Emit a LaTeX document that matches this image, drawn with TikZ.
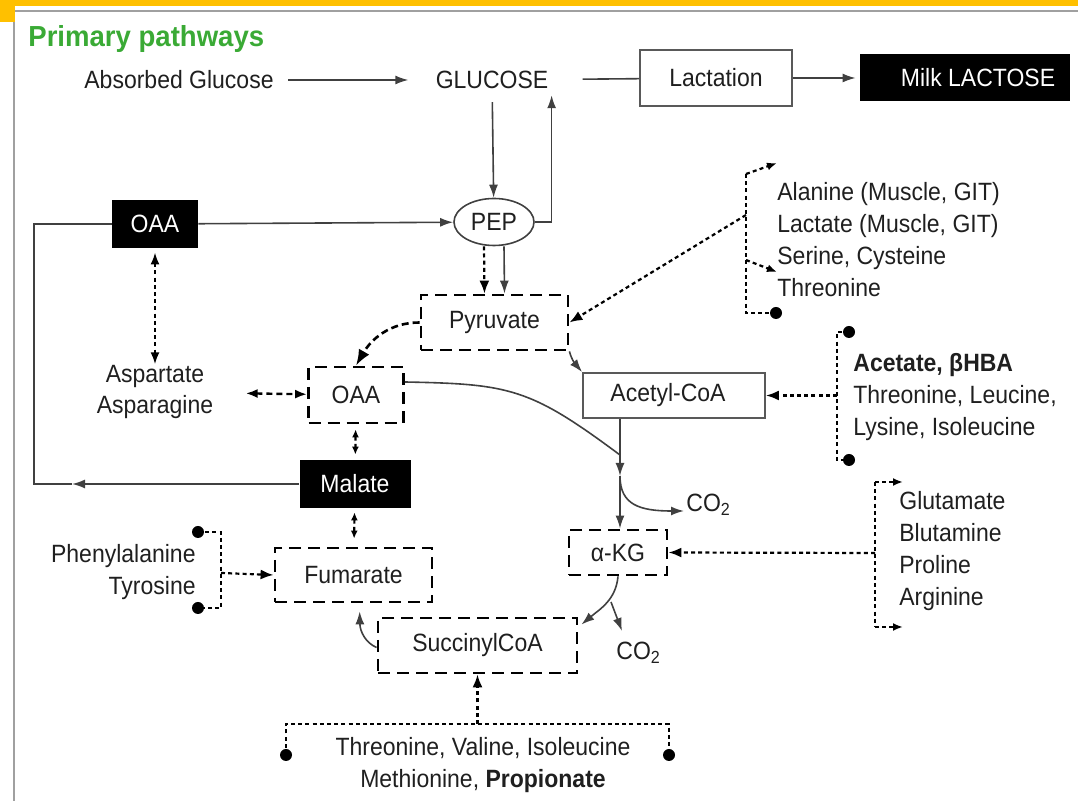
\documentclass[tikz,border=0pt]{standalone}
\usepackage{fontspec}
\setmainfont{Liberation Sans}[FakeStretch=0.92]
\newfontfamily\titlefont{Liberation Sans}[FakeStretch=0.95]
\usetikzlibrary{arrows.meta,shapes.geometric,calc}
\definecolor{bandorange}{RGB}{255,192,0}
\definecolor{titlegreen}{RGB}{58,170,53}
\definecolor{framegray}{RGB}{160,160,160}

\begin{document}
\begin{tikzpicture}[x=0.5pt,y=-0.5pt,
  font=\fontsize{12.5}{16}\selectfont,
  txt/.style={inner sep=3pt, text=black!88},
  solidbox/.style={draw=black!65, line width=0.9pt, fill=white, inner sep=0pt, text=black!88},
  blackbox/.style={fill=black, text=white, inner sep=0pt},
  dashbox/.style={draw=black, line width=1.4pt, dash pattern=on 6pt off 3.5pt, inner sep=0pt, text=black!88},
  conn/.style={draw=black!75, line width=0.8pt},
  arr/.style={conn, -{Latex[length=6.5pt,width=4.5pt]}},
  dotln/.style={draw=black, line width=1.1pt, dash pattern=on 2pt off 1.6pt},
  dotarr/.style={dotln, -{Latex[length=6.5pt,width=5pt]}},
  smallarr/.style={dotln, -{Latex[length=5pt,width=4pt]}},
  dotdbl/.style={dotln, {Latex[length=6pt,width=4.5pt]}-{Latex[length=6pt,width=4.5pt]}},
  shortdbl/.style={dotln, {Latex[length=4pt,width=3.5pt]}-{Latex[length=4pt,width=3.5pt]}},
  dashdbl/.style={draw=black, line width=1.2pt, dash pattern=on 3pt off 2pt, {Latex[length=6pt,width=4.5pt]}-{Latex[length=6pt,width=4.5pt]}},
  dasharr/.style={draw=black, line width=1.3pt, dash pattern=on 3.5pt off 2pt, -{Latex[length=8pt,width=6pt]}},
  dot/.style={circle, fill=black, inner sep=0pt, minimum size=6pt}]

\useasboundingbox (0,0) rectangle (1078,801);

% frame and top band
\draw[framegray, line width=1.4pt] (14,801) -- (14,11) -- (1078,11);
\fill[bandorange] (0,0) rectangle (1078,6);
\fill[bandorange] (0,0) rectangle (15,22);

\node[anchor=west, inner sep=0pt, text=titlegreen, font=\titlefont\bfseries\fontsize{14.5}{16}\selectfont] (title) at (28,39) {Primary pathways};

% top row
\node[txt] (absorbed) at (179,80) {Absorbed Glucose};
\node[txt] (glucose) at (492,80) {GLUCOSE};
\node[solidbox, minimum width=76pt, minimum height=28pt] (lact) at (716,78) {Lactation};
\node[blackbox, minimum width=105pt, minimum height=23.5pt] (milk) at (965,78) {\hspace*{13pt}Milk LACTOSE};

% main metabolites
\node[blackbox, minimum width=43pt, minimum height=24pt] (oaaA) at (155,224) {OAA};
\node[ellipse, draw=black!75, line width=0.8pt, minimum width=40pt, minimum height=23.5pt, inner sep=0pt, text=black!88] (pep) at (494,222) {PEP};
\node[dashbox, minimum width=73.5pt, minimum height=27.5pt] (pyr) at (494.5,322.5) {Pyruvate};
\node[txt, align=center] (asp) at (155,392) {Aspartate\\Asparagine};
\node[dashbox, minimum width=47.5pt, minimum height=28pt] (oaaB) at (356,395) {OAA};
\node[blackbox, minimum width=55.5pt, minimum height=24pt] (malate) at (355,484) {Malate};
\node[dashbox, minimum width=78.5pt, minimum height=27pt] (fum) at (353.5,575) {Fumarate};
\node[txt, align=right, anchor=east] (phe) at (202,572) {Phenylalanine\\Tyrosine};
\node[dashbox, minimum width=99.5pt, minimum height=27.5pt] (succ) at (477.5,645.5) {SuccinylCoA};
\node[dashbox, minimum width=49pt, minimum height=22.5pt] (akg) at (618,552.5) {α-KG};
\node[solidbox, minimum width=91pt, minimum height=22.5pt] (acetyl) at (674,395.5) {Acetyl-CoA\hspace*{6pt}};
\node[txt, anchor=west, inner sep=1pt] (co2a) at (684,505) {CO\textsubscript{2}};
\node[txt, anchor=west, inner sep=1pt] (co2b) at (614,653) {CO\textsubscript{2}};

% precursor groups
\node[txt, align=left, anchor=west] (alan) at (771,240) {Alanine (Muscle, GIT)\\Lactate (Muscle, GIT)\\Serine, Cysteine\\Threonine};
\node[txt, align=left, anchor=west] (acet) at (847,397) {\textbf{Acetate, βHBA}\\Threonine, Leucine,\\Lysine, Isoleucine};
\node[txt, align=left, anchor=west] (glut) at (893,551) {Glutamate\\Blutamine\\Proline\\Arginine};
\node[txt, align=center] (btm) at (483,765) {Threonine, Valine, Isoleucine\\Methionine, \textbf{Propionate}};

% top row connectors
\draw[arr, shorten <=4pt, shorten >=10.5pt] (absorbed) -- (glucose);
\draw[conn, shorten <=14pt] (glucose) -- (lact);
\draw[arr, shorten >=2pt] (lact) -- (milk);
\draw[arr, shorten <=3.5pt] (glucose) -- (pep);
\draw[arr] (pep.east) -| ([xshift=-1.5pt]glucose.south east);

% gluconeogenic loop
\draw[arr] (oaaA) -- (pep);
\coordinate (loopmid) at (72,484);
\coordinate (loopcorner) at (34,484);
\draw[arr] (malate.west) -- (loopmid);
\draw[conn] (loopmid) -- (loopcorner) |- (oaaA.west);
\draw[dotdbl, shorten <=2pt, shorten >=-3pt] (oaaA) -- (asp);
\draw[dashdbl, shorten <=13pt] (asp) -- (oaaB);
\draw[shortdbl, shorten <=2.5pt, shorten >=2.5pt] (oaaB) -- (malate);
\draw[shortdbl, shorten <=2pt, shorten >=4pt] (malate) -- (fum);

% pyruvate
\draw[dotarr] ([xshift=-5pt]pep.south) -- ([xshift=-5pt]pyr.north);
\draw[arr] ([xshift=5pt]pep.south) -- ([xshift=5pt]pyr.north);
\draw[dasharr] (pyr.west) to[out=180, in=60] (oaaB.north);
\draw[arr] (pyr.south east) to[out=-75, in=130] (acetyl.north west);

% TCA part
\coordinate (junA) at (620,455);
\coordinate (junB) at (620,476);
\draw[conn] ([yshift=6.5pt]oaaB.east) .. controls (510,384) and (530,388) .. (junA);
\draw[arr] (acetyl.south -| junA) -- (junB);
\draw[arr] (junB) -- (akg.north -| junA);
\draw[arr] (junB) .. controls (620,505) and (640,511) .. ([yshift=-3pt]co2a.west);
\draw[arr] (akg.south) to[out=-95, in=40] ($(succ.north east)+(3,8)$);
\coordinate (kgBr) at (611,602);
\coordinate (kgTip) at (622,631);
\draw[arr] (kgBr) -- (kgTip);
\draw[arr, shorten >=4pt] ([yshift=-1pt]succ.west) .. controls (366,643) and (360,632) .. ([xshift=3pt]fum.south);

% alanine / lactate inputs
\coordinate (alA) at (746,174);
\coordinate (alAt) at (777,163);
\coordinate (alB) at (746,215);
\coordinate (alC) at (746,260);
\coordinate (alCt) at (777,272);
\coordinate (alD) at (746,313);
\node[dot] (alDot) at (776,313) {};
\draw[dotln] (alA) -- (alD) -- (alDot.center);
\draw[smallarr] (alA) -- (alAt);
\draw[smallarr] (alC) -- (alCt);
\draw[dotarr] (alB) -- (pyr.east);

% acetate inputs
\node[dot] (acTop) at (849,332) {};
\node[dot] (acBot) at (849,460) {};
\coordinate (acMid) at (837,395.5);
\draw[dotln] (acTop.center) -| (acMid) |- (acBot.center);
\draw[dotarr] (acMid) -- (acetyl.east);

% glutamate inputs
\coordinate (glA) at (875,482);
\coordinate (glAt) at (903,482);
\coordinate (glB) at (875,553);
\coordinate (glC) at (875,627);
\coordinate (glCt) at (903,627);
\draw[dotln] (glA) -- (glC);
\draw[smallarr] (glA) -- (glAt);
\draw[smallarr] (glC) -- (glCt);
\draw[dotarr] (glB) -- (akg.east);

% phenylalanine / tyrosine inputs
\node[dot] (phT) at (198,532) {};
\node[dot] (phB) at (198,608) {};
\coordinate (phM) at (221,573);
\draw[dotln] (phT.center) -| (phM) |- (phB.center);
\draw[dotarr] (phM) -- (fum.west);

% propionate inputs
\node[dot] (btL) at (286,755) {};
\node[dot] (btR) at (669,755) {};
\coordinate (btM) at (477.5,724);
\draw[dotln] (btL.center) |- (btM) -| (btR.center);
\draw[dotarr] (btM) -- (succ.south);

\end{tikzpicture}
\end{document}
